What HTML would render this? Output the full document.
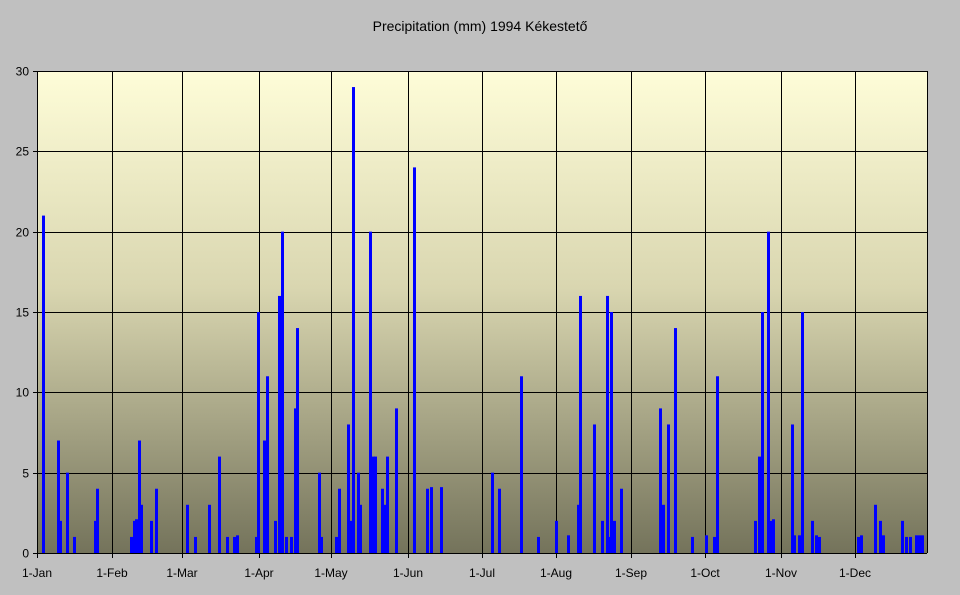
<!DOCTYPE html>
<html><head><meta charset="utf-8"><style>
body{margin:0;background:#c0c0c0;}
svg{display:block;font-family:"Liberation Sans",sans-serif;}
</style></head><body>
<svg width="960" height="595" xmlns="http://www.w3.org/2000/svg">
<defs><linearGradient id="g" x1="0" y1="0" x2="0" y2="1">
<stop offset="0" stop-color="#fefdd8"/><stop offset="0.45" stop-color="#d9d6b0"/><stop offset="1" stop-color="#74735b"/></linearGradient></defs>
<rect width="960" height="595" fill="#c0c0c0"/>
<text x="480" y="31" font-size="14" text-anchor="middle" fill="#000">Precipitation (mm) 1994 Kékestető</text>
<rect x="37" y="71" width="890" height="482" fill="url(#g)"/>
<g id="grid" stroke="#000" stroke-width="1"></g>
<g id="bars" fill="#0000ff"></g>
<g id="lab" font-size="12" fill="#000"></g>
</svg>
<script>
var ns="http://www.w3.org/2000/svg";
function el(p,t,a,txt){var e=document.createElementNS(ns,t);for(var k in a)e.setAttribute(k,a[k]);if(txt)e.textContent=txt;document.getElementById(p).appendChild(e);}
var Y0=553,S=16.067;
for(var v=0;v<=30;v+=5){var y=Math.round(Y0-v*S)+0.5;el("grid","line",{x1:37,x2:927,y1:y,y2:y});el("grid","line",{x1:33,x2:37,y1:y,y2:y});el("lab","text",{x:29,y:y+4,"text-anchor":"end"},String(v));}
var mx=[37,112,182,259,331,408,482,556,631,705,781,855],mn=["1-Jan","1-Feb","1-Mar","1-Apr","1-May","1-Jun","1-Jul","1-Aug","1-Sep","1-Oct","1-Nov","1-Dec"];
for(var i=0;i<12;i++){var x=mx[i]+0.5;el("grid","line",{x1:x,x2:x,y1:71,y2:558});el("lab","text",{x:mx[i],y:577,"text-anchor":"middle"},mn[i]);}
el("grid","line",{x1:927.5,x2:927.5,y1:71,y2:553});
el("grid","line",{x1:37,x2:928,y1:71.5,y2:71.5});
var b=[[42,21],[57,7],[59,2],[66,5],[73,1],[94,2],[96,4],[130,1],[133,2],[135,2.1],[138,7],[140,3],[150,2],[155,4],[186,3],[194,1],[208,3],[218,6],[226,1],[233,1],[236,1.1],[255,1],[257,15],[263,7],[266,11],[274,2],[278,16],[281,20],[285,1],[290,1],[294,9],[296,14],[318,5],[320,1],[335,1],[338,4],[347,8],[349,2],[352,29],[357,5],[359,3],[369,20],[372,6],[374,6],[381,4],[383,3],[386,6],[395,9],[413,24],[426,4],[430,4.1],[440,4.1],[491,5],[498,4],[520,11],[537,1],[555,2],[567,1.1],[577,3],[579,16],[593,8],[601,2],[606,16],[608,1],[610,15],[613,2],[620,4],[659,9],[662,3],[667,8],[674,14],[691,1],[705,1.1],[713,1],[716,11],[754,2],[758,6],[761,15],[767,20],[770,2],[772,2.1],[791,8],[793,1.1],[798,1.1],[801,15],[811,2],[815,1.1],[818,1],[857,1],[860,1.1],[874,3],[879,2],[882,1.1],[901,2],[905,1],[909,1],[915,1.1],[918,1.1],[921,1.1]];
b.forEach(function(d){var h=d[1]*S;el("bars","rect",{x:d[0],y:Y0-h,width:3,height:h});});
</script>
</body></html>
